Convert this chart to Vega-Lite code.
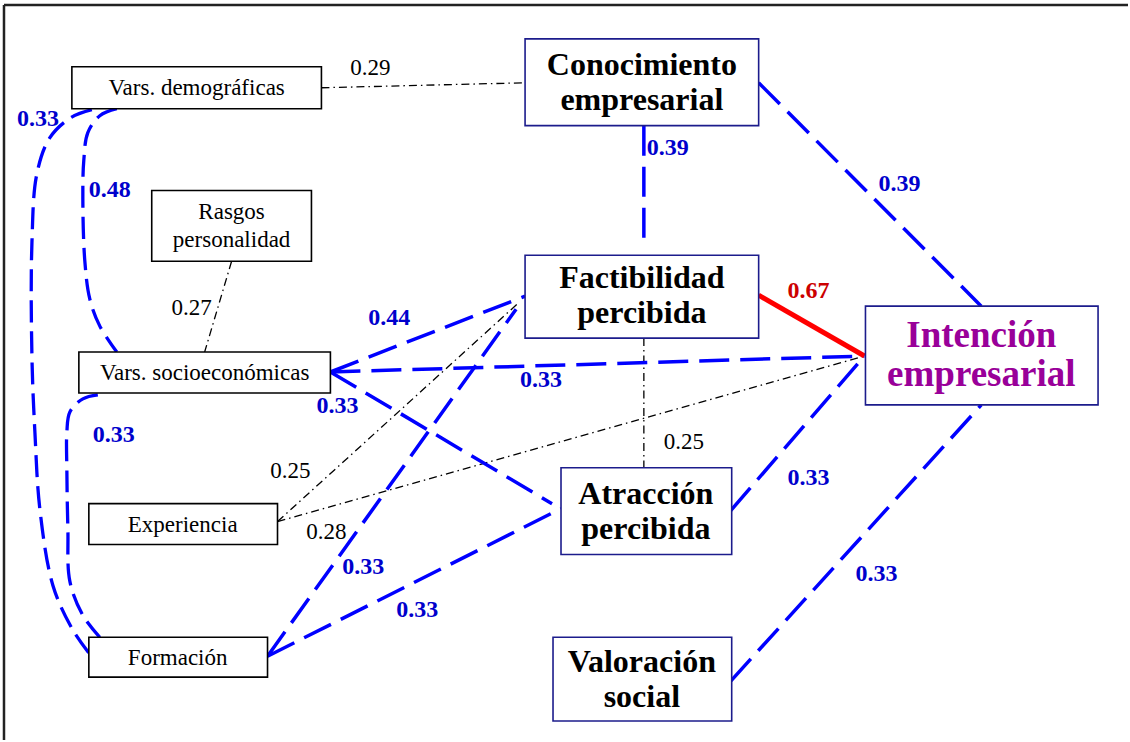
{
  "$schema": "https://vega.github.io/schema/vega-lite/v6.json",
  "width": 1130,
  "height": 742,
  "padding": 0,
  "autosize": {"type": "fit", "contains": "padding"},
  "background": "#ffffff",
  "config": {"view": {"stroke": null}, "font": "Liberation Serif, Times New Roman, serif"},
  "datasets": {
    "edges": [
      {"kind": "frame", "x": 4, "y": 5, "x2": 1130, "y2": 5},
      {"kind": "frame", "x": 4, "y": 5, "x2": 4, "y2": 742},
      {"kind": "black", "x": 322, "y": 88, "x2": 526, "y2": 83},
      {"kind": "blue", "x": 645, "y": 126, "x2": 645, "y2": 248},
      {"kind": "blue", "x": 760, "y": 83, "x2": 983, "y2": 307},
      {"kind": "red", "x": 760, "y": 296, "x2": 866, "y2": 357},
      {"kind": "blue", "x": 331, "y": 373, "x2": 866, "y2": 357},
      {"kind": "blue", "x": 331, "y": 373, "x2": 526, "y2": 297},
      {"kind": "blue", "x": 331, "y": 373, "x2": 553, "y2": 505},
      {"kind": "blue", "x": 268, "y": 658, "x2": 517, "y2": 310},
      {"kind": "blue", "x": 268, "y": 658, "x2": 562, "y2": 510},
      {"kind": "blue", "x": 732, "y": 512, "x2": 866, "y2": 357},
      {"kind": "blue", "x": 732, "y": 683, "x2": 983, "y2": 406},
      {"kind": "black", "x": 645, "y": 339, "x2": 645, "y2": 469},
      {"kind": "black", "x": 232, "y": 262, "x2": 205, "y2": 353},
      {"kind": "black", "x": 278, "y": 523, "x2": 518, "y2": 305},
      {"kind": "black", "x": 278, "y": 523, "x2": 866, "y2": 357}
    ],
    "curves": [
      {"id": "A", "i": 0, "x": 92, "y": 110},
      {"id": "A", "i": 1, "x": 71, "y": 118},
      {"id": "A", "i": 2, "x": 50, "y": 138},
      {"id": "A", "i": 3, "x": 37, "y": 174},
      {"id": "A", "i": 4, "x": 32, "y": 243},
      {"id": "A", "i": 5, "x": 32, "y": 358},
      {"id": "A", "i": 6, "x": 35, "y": 434},
      {"id": "A", "i": 7, "x": 40, "y": 511},
      {"id": "A", "i": 8, "x": 53, "y": 587},
      {"id": "A", "i": 9, "x": 72, "y": 630},
      {"id": "A", "i": 10, "x": 90, "y": 656},
      {"id": "B", "i": 0, "x": 117, "y": 109},
      {"id": "B", "i": 1, "x": 100, "y": 116},
      {"id": "B", "i": 2, "x": 88, "y": 133},
      {"id": "B", "i": 3, "x": 84, "y": 160},
      {"id": "B", "i": 4, "x": 83, "y": 200},
      {"id": "B", "i": 5, "x": 85, "y": 262},
      {"id": "B", "i": 6, "x": 90, "y": 300},
      {"id": "B", "i": 7, "x": 100, "y": 327},
      {"id": "B", "i": 8, "x": 117, "y": 353},
      {"id": "C", "i": 0, "x": 98, "y": 396},
      {"id": "C", "i": 1, "x": 83, "y": 400},
      {"id": "C", "i": 2, "x": 70, "y": 413},
      {"id": "C", "i": 3, "x": 67, "y": 433},
      {"id": "C", "i": 4, "x": 67, "y": 473},
      {"id": "C", "i": 5, "x": 68, "y": 530},
      {"id": "C", "i": 6, "x": 70, "y": 583},
      {"id": "C", "i": 7, "x": 83, "y": 617},
      {"id": "C", "i": 8, "x": 100, "y": 639}
    ],
    "nodes": [
      {"kind": "plain", "label": "Vars. demográficas", "x": 197, "y": 88, "bx1": 72, "by1": 67, "bx2": 322, "by2": 109},
      {"kind": "plain", "label": "Rasgos\npersonalidad", "x": 232, "y": 213, "bx1": 152, "by1": 191, "bx2": 312, "by2": 262},
      {"kind": "plain", "label": "Vars. socioeconómicas", "x": 205, "y": 374, "bx1": 79, "by1": 353, "bx2": 331, "by2": 394},
      {"kind": "plain", "label": "Experiencia", "x": 183, "y": 526, "bx1": 89, "by1": 505, "bx2": 278, "by2": 546},
      {"kind": "plain", "label": "Formación", "x": 178, "y": 660, "bx1": 89, "by1": 639, "bx2": 268, "by2": 679},
      {"kind": "main", "label": "Conocimiento\nempresarial", "x": 643, "y": 65, "bx1": 526, "by1": 39, "bx2": 760, "by2": 126},
      {"kind": "main", "label": "Factibilidad\npercibida", "x": 643, "y": 279, "bx1": 526, "by1": 256, "bx2": 760, "by2": 339},
      {"kind": "main", "label": "Atracción\npercibida", "x": 647, "y": 495, "bx1": 562, "by1": 469, "bx2": 733, "by2": 556},
      {"kind": "main", "label": "Valoración\nsocial", "x": 643, "y": 664, "bx1": 554, "by1": 639, "bx2": 733, "by2": 723},
      {"kind": "target", "label": "Intención\nempresarial", "x": 983, "y": 337, "bx1": 867, "by1": 307, "bx2": 1100, "by2": 406}
    ],
    "labels": [
      {"kind": "reg", "text": "0.29", "x": 371, "y": 68},
      {"kind": "reg", "text": "0.27", "x": 192, "y": 309},
      {"kind": "reg", "text": "0.25", "x": 291, "y": 472},
      {"kind": "reg", "text": "0.28", "x": 327, "y": 533},
      {"kind": "reg", "text": "0.25", "x": 685, "y": 443},
      {"kind": "blue", "text": "0.33", "x": 38, "y": 119},
      {"kind": "blue", "text": "0.48", "x": 110, "y": 191},
      {"kind": "blue", "text": "0.44", "x": 390, "y": 319},
      {"kind": "blue", "text": "0.33", "x": 338, "y": 407},
      {"kind": "blue", "text": "0.33", "x": 114, "y": 436},
      {"kind": "blue", "text": "0.33", "x": 364, "y": 569},
      {"kind": "blue", "text": "0.33", "x": 418, "y": 612},
      {"kind": "blue", "text": "0.39", "x": 669, "y": 148},
      {"kind": "blue", "text": "0.39", "x": 901, "y": 184},
      {"kind": "blue", "text": "0.33", "x": 542, "y": 381},
      {"kind": "blue", "text": "0.33", "x": 810, "y": 479},
      {"kind": "blue", "text": "0.33", "x": 878, "y": 576},
      {"kind": "red", "text": "0.67", "x": 810, "y": 292}
    ]
  },
  "encoding": {
    "x": {"field": "x", "type": "quantitative", "scale": {"domain": [0, 1130], "nice": false, "zero": false}, "axis": null},
    "y": {"field": "y", "type": "quantitative", "scale": {"domain": [0, 742], "reverse": true, "nice": false, "zero": false}, "axis": null}
  },
  "layer": [
    {
      "data": {"name": "edges"},
      "transform": [{"filter": "datum.kind === 'frame'"}],
      "mark": {"type": "rule", "stroke": "#222222", "strokeWidth": 2.5},
      "encoding": {"x2": {"field": "x2"}, "y2": {"field": "y2"}}
    },
    {
      "data": {"name": "edges"},
      "transform": [{"filter": "datum.kind === 'black'"}],
      "mark": {"type": "rule", "stroke": "#000000", "strokeWidth": 1.3, "strokeDash": [8, 4, 1.5, 4]},
      "encoding": {"x2": {"field": "x2"}, "y2": {"field": "y2"}}
    },
    {
      "data": {"name": "edges"},
      "transform": [{"filter": "datum.kind === 'blue'"}],
      "mark": {"type": "rule", "stroke": "#0000ff", "strokeWidth": 3.5, "strokeDash": [30, 11]},
      "encoding": {"x2": {"field": "x2"}, "y2": {"field": "y2"}}
    },
    {
      "data": {"name": "edges"},
      "transform": [{"filter": "datum.kind === 'red'"}],
      "mark": {"type": "rule", "stroke": "#ff0000", "strokeWidth": 5},
      "encoding": {"x2": {"field": "x2"}, "y2": {"field": "y2"}}
    },
    {
      "data": {"name": "curves"},
      "mark": {"type": "line", "interpolate": "catmull-rom", "stroke": "#0000ff", "strokeWidth": 3.3, "strokeDash": [22, 9]},
      "encoding": {"detail": {"field": "id"}, "order": {"field": "i", "type": "quantitative"}}
    },
    {
      "data": {"name": "nodes"},
      "transform": [{"filter": "datum.kind === 'plain'"}],
      "mark": {"type": "rect", "fill": "#ffffff", "stroke": "#000000", "strokeWidth": 1.6},
      "encoding": {
        "x": {"field": "bx1", "type": "quantitative", "scale": {"domain": [0, 1130], "nice": false, "zero": false}, "axis": null},
        "x2": {"field": "bx2"},
        "y": {"field": "by1", "type": "quantitative", "scale": {"domain": [0, 742], "reverse": true, "nice": false, "zero": false}, "axis": null},
        "y2": {"field": "by2"}
      }
    },
    {
      "data": {"name": "nodes"},
      "transform": [{"filter": "datum.kind !== 'plain'"}],
      "mark": {"type": "rect", "fill": "#ffffff", "stroke": "#1c1c8c", "strokeWidth": 1.6},
      "encoding": {
        "x": {"field": "bx1", "type": "quantitative", "scale": {"domain": [0, 1130], "nice": false, "zero": false}, "axis": null},
        "x2": {"field": "bx2"},
        "y": {"field": "by1", "type": "quantitative", "scale": {"domain": [0, 742], "reverse": true, "nice": false, "zero": false}, "axis": null},
        "y2": {"field": "by2"}
      }
    },
    {
      "data": {"name": "nodes"},
      "transform": [{"filter": "datum.kind === 'plain'"}],
      "mark": {"type": "text", "font": "Liberation Serif, Times New Roman, serif", "fontSize": 23, "color": "#000000", "align": "center", "baseline": "middle", "lineBreak": "\n", "lineHeight": 28},
      "encoding": {"text": {"field": "label"}}
    },
    {
      "data": {"name": "nodes"},
      "transform": [{"filter": "datum.kind === 'main'"}],
      "mark": {"type": "text", "font": "Liberation Serif, Times New Roman, serif", "fontSize": 32, "fontWeight": "bold", "color": "#000000", "align": "center", "baseline": "middle", "lineBreak": "\n", "lineHeight": 35},
      "encoding": {"text": {"field": "label"}}
    },
    {
      "data": {"name": "nodes"},
      "transform": [{"filter": "datum.kind === 'target'"}],
      "mark": {"type": "text", "font": "Liberation Serif, Times New Roman, serif", "fontSize": 37, "fontWeight": "bold", "color": "#990099", "align": "center", "baseline": "middle", "lineBreak": "\n", "lineHeight": 39},
      "encoding": {"text": {"field": "label"}}
    },
    {
      "data": {"name": "labels"},
      "transform": [{"filter": "datum.kind === 'reg'"}],
      "mark": {"type": "text", "font": "Liberation Serif, Times New Roman, serif", "fontSize": 23, "color": "#000000", "align": "center", "baseline": "middle"},
      "encoding": {"text": {"field": "text"}}
    },
    {
      "data": {"name": "labels"},
      "transform": [{"filter": "datum.kind === 'blue'"}],
      "mark": {"type": "text", "font": "Liberation Serif, Times New Roman, serif", "fontSize": 24, "fontWeight": "bold", "color": "#0000cc", "align": "center", "baseline": "middle"},
      "encoding": {"text": {"field": "text"}}
    },
    {
      "data": {"name": "labels"},
      "transform": [{"filter": "datum.kind === 'red'"}],
      "mark": {"type": "text", "font": "Liberation Serif, Times New Roman, serif", "fontSize": 24, "fontWeight": "bold", "color": "#cc0000", "align": "center", "baseline": "middle"},
      "encoding": {"text": {"field": "text"}}
    }
  ]
}
